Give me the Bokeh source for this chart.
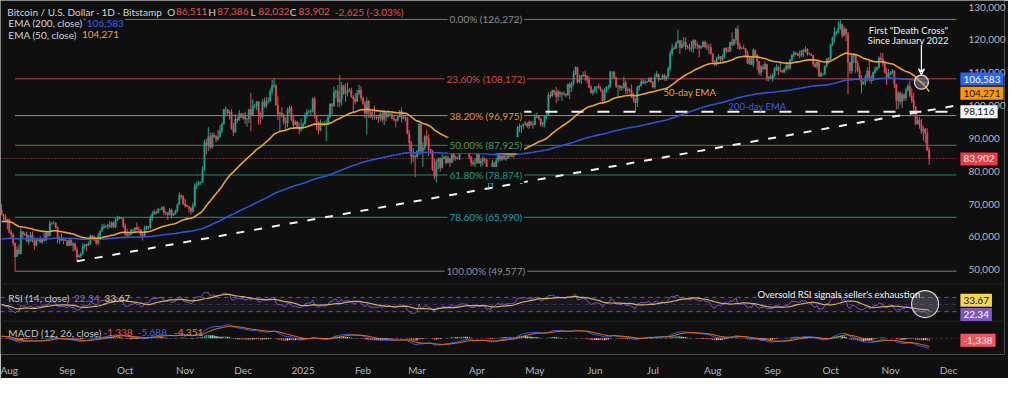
import numpy as np
import pandas as pd
from bokeh.plotting import figure
from bokeh.models import (Range1d, FixedTicker, NumeralTickFormatter, CustomJSTickFormatter,
                          Label, Span, BoxAnnotation, Arrow, VeeHead)
from bokeh.embed import file_html
from bokeh.resources import INLINE

# ---------------- data (BTC/USD daily, thousands of USD) ----------------
first_date = "2024-07-29"
first_open = 68.2

close_2024 = [
    66.8, 66.2, 64.6,
    65.3, 61.4, 60.7, 58.1, 54.0, 56.0, 55.0, 61.7, 60.8, 60.9, 58.7, 59.3, 60.6, 58.7, 57.5, 58.9, 59.5, 58.4, 59.5, 59.0, 61.2, 60.4, 64.1, 64.2, 64.2, 62.8, 59.4, 59.0, 59.4, 59.1, 58.9,
    57.3, 59.1, 57.5, 57.9, 56.2, 53.9, 54.2, 54.8, 57.0, 57.7, 57.4, 58.1, 60.5, 60.0, 59.2, 58.2, 60.3, 61.8, 62.9, 63.2, 63.3, 63.6, 63.3, 64.3, 63.1, 65.2, 65.8, 65.9, 65.6, 63.3,
    60.8, 60.6, 60.8, 62.1, 62.1, 62.8, 62.2, 62.1, 60.6, 60.3, 62.4, 63.2, 62.9, 66.0, 67.0, 67.6, 67.4, 68.4, 68.4, 69.0, 67.4, 67.4, 66.7, 68.2, 66.6, 67.0, 67.9, 69.9, 72.7, 72.3, 70.2,
    69.5, 69.3, 68.7, 67.8, 69.4, 75.6, 75.9, 76.5, 76.7, 80.5, 88.7, 88.0, 90.5, 87.3, 91.0, 90.6, 89.8, 90.5, 92.3, 94.3, 98.9, 98.9, 97.7, 98.0, 93.0, 91.9, 95.9, 95.6, 97.5, 96.4,
    97.2, 95.9, 96.0, 98.8, 97.0, 99.9, 99.9, 101.2, 97.4, 96.6, 101.1, 100.0, 101.4, 101.4, 104.3, 106.1, 106.1, 100.2, 97.5, 97.8, 97.2, 95.1, 94.7, 98.7, 99.3, 95.8, 94.2, 95.1, 93.6, 92.8, 93.4,
]
high_2024 = [
    70.0, 67.0, 66.9,
    65.6, 65.6, 62.2, 61.1, 58.3, 57.0, 57.7, 62.7, 61.8, 61.4, 61.7, 60.6, 61.5, 61.7, 59.8, 59.8, 59.7, 60.2, 59.6, 61.3, 61.8, 61.4, 64.9, 64.5, 65.0, 64.4, 63.2, 60.2, 61.1, 59.8, 59.4,
    59.0, 59.4, 59.8, 58.5, 58.3, 56.9, 54.8, 55.3, 58.1, 58.0, 57.9, 58.6, 60.7, 60.6, 60.4, 59.2, 61.3, 62.0, 63.9, 64.1, 63.6, 64.0, 64.8, 64.7, 64.8, 65.8, 66.5, 66.3, 66.1, 65.7,
    64.1, 62.4, 61.4, 62.5, 62.4, 63.0, 64.4, 63.2, 62.5, 61.3, 63.4, 63.5, 63.3, 66.5, 67.9, 68.4, 68.0, 68.9, 68.6, 69.4, 69.5, 67.8, 67.5, 68.8, 68.7, 67.4, 68.3, 70.2, 73.6, 72.9, 72.7,
    71.6, 69.9, 69.4, 69.0, 70.5, 76.4, 76.9, 77.2, 76.9, 81.5, 89.6, 89.9, 93.4, 91.8, 91.8, 91.8, 91.1, 92.6, 94.0, 94.9, 99.0, 99.8, 99.0, 98.6, 98.9, 94.7, 97.4, 96.6, 98.7, 97.8,
    97.8, 98.1, 96.3, 99.0, 103.9, 101.9, 100.5, 101.4, 101.3, 98.2, 101.9, 102.5, 102.6, 102.6, 105.2, 107.8, 108.3, 106.5, 102.8, 98.1, 99.5, 97.4, 96.4, 99.4, 99.9, 99.9, 97.3, 95.5, 95.2, 94.9, 96.1,
]
low_2024 = [
    66.6, 65.3, 64.5,
    62.3, 61.1, 59.8, 57.2, 49.577, 53.9, 54.6, 54.7, 59.6, 60.3, 58.4, 57.7, 58.5, 58.4, 56.1, 57.1, 58.8, 58.3, 57.9, 58.6, 58.8, 59.8, 60.3, 63.6, 63.8, 62.7, 58.1, 57.9, 58.8, 57.8, 58.8,
    57.2, 57.2, 57.4, 55.6, 55.7, 52.6, 53.7, 53.6, 54.6, 56.4, 55.6, 57.3, 57.6, 59.5, 58.7, 57.5, 57.6, 59.2, 61.6, 62.4, 62.8, 62.4, 62.7, 62.7, 62.7, 62.7, 64.8, 65.4, 65.5, 62.8,
    60.2, 59.9, 59.9, 60.5, 61.7, 61.8, 62.1, 61.8, 60.3, 58.9, 60.2, 62.2, 62.1, 62.5, 64.9, 66.8, 66.8, 67.2, 68.1, 68.2, 66.6, 66.6, 65.2, 66.6, 65.6, 66.5, 66.8, 67.5, 69.8, 71.5, 69.7,
    68.9, 69.1, 67.5, 66.8, 67.5, 69.3, 74.5, 75.6, 75.9, 76.5, 80.2, 85.1, 86.2, 86.7, 87.1, 90.2, 88.8, 89.4, 90.3, 91.6, 94.2, 97.2, 97.3, 95.8, 92.6, 90.8, 91.8, 94.7, 95.4, 96.2,
    95.7, 94.4, 93.6, 94.7, 92.2, 96.9, 99.1, 98.7, 94.2, 94.3, 95.8, 99.3, 99.2, 100.6, 101.2, 103.3, 105.3, 100.0, 95.7, 92.2, 96.4, 94.2, 92.4, 93.4, 97.6, 95.2, 93.3, 94.0, 93.0, 91.3, 92.0,
]
close_2025 = [
    94.4, 96.9, 98.1, 98.2, 98.3, 102.1, 96.9, 95.0, 92.5, 94.7, 94.5, 94.5, 94.5, 96.5, 100.5, 99.9, 104.1, 104.4, 101.1, 102.0, 106.1, 103.7, 103.9, 104.8, 104.7, 102.6, 102.1, 101.3, 103.7, 104.7, 102.4,
    100.6, 97.7, 101.4, 97.9, 96.6, 96.6, 96.5, 96.5, 96.2, 97.4, 95.8, 97.9, 96.6, 97.5, 97.6, 96.1, 95.8, 95.5, 96.6, 98.3, 96.1, 96.6, 96.3, 91.5, 88.7, 84.4, 84.7, 84.4,
    86.0, 94.3, 86.1, 87.2, 90.6, 89.9, 86.7, 86.2, 80.7, 78.5, 82.9, 83.7, 81.1, 84.0, 84.3, 82.6, 84.0, 82.7, 86.8, 84.2, 84.0, 83.8, 86.1, 87.5, 87.4, 86.9, 87.2, 84.3, 82.6, 82.3, 82.5,
    85.2, 82.5, 83.1, 83.8, 83.5, 78.4, 79.2, 76.3, 82.6, 79.6, 83.4, 85.3, 83.7, 84.6, 83.7, 84.0, 84.9, 84.5, 85.1, 85.2, 87.5, 93.4, 93.7, 93.9, 94.7, 94.6, 93.8, 95.0, 94.3, 94.2,
    96.5, 96.9, 95.9, 94.3, 94.7, 96.8, 97.0, 103.2, 102.9, 104.6, 104.1, 102.8, 104.2, 103.5, 103.7, 103.5, 103.2, 106.5, 105.6, 106.8, 109.7, 111.7, 107.3, 107.8, 109.0, 109.4, 108.9, 107.8, 105.6, 103.9, 104.6,
    105.7, 105.8, 105.4, 104.7, 101.5, 104.3, 105.6, 105.7, 110.3, 110.3, 108.6, 105.9, 106.1, 105.4, 105.6, 107.0, 104.6, 104.9, 104.6, 103.3, 102.1, 100.9, 105.5, 106.0, 107.3, 106.9, 107.1, 107.3, 108.4, 107.1,
    105.7, 108.8, 109.6, 108.0, 108.2, 109.2, 108.2, 108.9, 111.3, 115.9, 117.5, 117.4, 119.1, 119.8, 117.7, 118.7, 119.2, 117.9, 117.9, 117.3, 117.4, 119.9, 118.6, 118.3, 117.6, 117.9, 119.4, 118.0, 117.8, 117.8, 115.7,
    113.3, 112.5, 114.2, 115.0, 114.1, 115.0, 117.5, 116.7, 116.5, 119.3, 118.7, 120.2, 123.3, 118.4, 117.4, 117.5, 117.4, 116.2, 112.9, 114.3, 112.5, 116.9, 115.4, 113.5, 110.1, 111.8, 111.2, 112.6, 108.4, 108.8, 108.3,
    109.2, 111.2, 111.7, 110.7, 110.7, 110.2, 111.2, 112.1, 111.5, 113.9, 115.5, 116.1, 115.9, 115.3, 115.4, 116.8, 116.5, 117.1, 115.7, 115.7, 115.3, 112.7, 112.0, 113.3, 109.0, 109.7, 109.7, 112.1, 114.3, 114.1,
    118.6, 120.7, 122.3, 122.3, 123.5, 124.8, 121.4, 123.3, 121.7, 113.2, 110.7, 115.2, 115.3, 113.0, 110.7, 108.2, 106.5, 107.2, 108.7, 110.6, 108.5, 107.6, 110.1, 111.0, 111.6, 114.5, 114.1, 112.9, 110.1, 108.3, 109.6,
    110.1, 110.6, 106.5, 101.6, 103.9, 101.3, 103.3, 102.3, 104.7, 106.0, 103.0, 101.6, 99.7, 94.4, 95.6, 94.2, 92.2, 92.9, 91.5, 86.511, 83.902,
]
high_2025 = [
    94.9, 97.8, 98.9, 98.7, 98.8, 102.5, 102.7, 97.2, 95.3, 95.8, 94.9, 95.3, 95.8, 97.3, 100.7, 100.8, 105.8, 104.9, 106.3, 109.3, 107.2, 106.3, 106.8, 107.1, 105.3, 105.5, 103.2, 103.8, 104.8, 106.4, 106.0,
    102.7, 101.4, 102.5, 101.7, 99.0, 99.2, 100.1, 96.9, 97.3, 98.3, 98.5, 98.1, 98.0, 98.7, 97.9, 97.7, 97.0, 96.0, 96.9, 98.7, 99.5, 96.8, 96.7, 96.5, 92.5, 89.3, 87.1, 85.1,
    86.5, 95.0, 94.4, 88.9, 91.0, 92.7, 91.2, 86.8, 86.5, 83.9, 83.6, 84.3, 84.3, 85.2, 84.7, 85.0, 84.7, 84.1, 87.4, 87.4, 84.8, 84.5, 86.2, 88.7, 88.5, 88.3, 87.7, 87.5, 84.6, 83.5, 83.9,
    85.5, 88.5, 83.9, 84.7, 84.2, 83.8, 81.2, 80.8, 83.5, 82.7, 84.2, 85.8, 86.0, 85.8, 86.4, 85.4, 85.4, 85.1, 85.6, 85.3, 88.8, 93.8, 94.7, 94.0, 95.7, 95.3, 95.0, 95.5, 95.4, 95.2,
    97.4, 97.9, 97.0, 96.3, 95.1, 96.9, 97.7, 104.0, 104.3, 104.9, 104.8, 105.8, 104.9, 104.3, 104.1, 104.5, 103.7, 106.7, 107.1, 107.3, 110.8, 111.9, 111.8, 109.5, 109.3, 110.4, 110.7, 109.3, 108.9, 106.3, 104.9,
    105.9, 105.9, 106.8, 105.9, 105.0, 105.3, 105.9, 106.4, 110.6, 110.4, 110.4, 108.8, 106.2, 106.2, 106.1, 108.9, 107.7, 105.6, 105.3, 106.5, 103.9, 102.4, 106.1, 106.3, 108.1, 108.0, 107.8, 107.6, 108.5, 108.8,
    107.5, 109.8, 110.5, 109.7, 108.4, 109.7, 109.7, 109.2, 111.9, 116.8, 118.9, 118.2, 119.5, 123.2, 119.9, 120.0, 120.9, 120.8, 118.5, 118.9, 119.7, 120.2, 120.1, 119.5, 118.5, 118.4, 119.8, 119.8, 119.2, 118.8, 118.9,
    116.0, 114.0, 114.8, 115.7, 115.1, 115.6, 117.6, 117.7, 117.9, 119.4, 122.3, 120.3, 123.7, 124.4, 119.2, 117.9, 118.6, 117.6, 116.8, 114.6, 114.6, 117.4, 117.0, 115.7, 113.7, 112.4, 112.6, 113.5, 112.7, 108.9, 109.5,
    109.9, 111.8, 112.6, 112.2, 113.4, 110.9, 111.4, 112.9, 113.3, 114.3, 115.6, 116.7, 116.4, 116.1, 116.8, 117.0, 117.3, 118.0, 117.5, 116.3, 115.8, 115.4, 113.3, 114.0, 113.5, 110.3, 109.8, 112.3, 114.4, 114.8,
    118.8, 121.0, 123.9, 122.8, 125.7, 126.272, 125.0, 124.2, 123.7, 122.5, 113.3, 115.8, 116.0, 115.5, 113.6, 111.9, 109.2, 107.5, 109.4, 111.7, 114.0, 109.2, 110.4, 112.0, 111.8, 115.0, 116.1, 116.0, 113.6, 111.6, 111.2,
    110.5, 111.1, 110.7, 106.6, 104.5, 104.2, 104.0, 103.6, 105.5, 106.7, 107.4, 105.3, 104.0, 99.8, 96.8, 96.6, 96.0, 93.8, 93.2, 93.1, 87.386,
]
low_2025 = [
    92.8, 94.2, 96.0, 97.6, 97.2, 97.9, 96.1, 92.5, 91.2, 92.2, 93.8, 93.7, 89.2, 94.3, 96.3, 97.3, 99.7, 102.3, 99.6, 99.5, 100.1, 103.3, 101.2, 102.8, 104.1, 102.5, 97.8, 100.3, 101.2, 103.3, 101.6,
    100.3, 96.2, 91.2, 96.2, 96.2, 95.7, 95.7, 95.7, 94.7, 95.3, 94.9, 94.1, 95.2, 96.3, 97.1, 96.0, 95.2, 93.4, 95.2, 96.4, 94.9, 95.8, 95.2, 91.3, 86.1, 82.3, 82.8, 78.2,
    84.2, 85.0, 85.1, 81.4, 86.4, 87.9, 84.7, 85.3, 80.1, 77.5, 76.6, 80.7, 79.9, 80.8, 83.7, 82.1, 82.5, 81.2, 82.6, 83.2, 83.2, 83.6, 83.4, 85.5, 86.3, 85.9, 85.8, 83.8, 81.6, 81.6, 81.3,
    82.4, 82.3, 81.2, 81.7, 82.4, 77.2, 74.6, 76.2, 74.8, 78.4, 78.9, 82.7, 83.0, 83.2, 83.6, 83.2, 83.9, 84.2, 84.3, 83.9, 85.1, 87.1, 91.9, 91.7, 92.9, 93.9, 93.2, 92.9, 93.8, 92.9,
    94.1, 96.2, 95.7, 93.6, 93.5, 93.4, 95.8, 96.9, 102.3, 102.8, 103.2, 100.8, 101.4, 102.6, 101.4, 103.1, 102.6, 103.1, 102.0, 104.2, 106.1, 109.3, 106.8, 106.9, 106.6, 108.8, 107.6, 106.8, 105.4, 103.6, 103.1,
    103.9, 103.7, 105.1, 104.2, 100.4, 101.1, 103.9, 105.0, 105.3, 108.3, 108.1, 105.4, 102.7, 104.5, 104.5, 105.1, 103.4, 103.6, 103.9, 102.3, 100.9, 98.2, 99.6, 104.6, 105.9, 106.6, 106.4, 106.9, 107.2, 106.8,
    105.3, 105.1, 108.6, 107.3, 107.8, 107.8, 107.5, 107.5, 108.4, 110.6, 115.2, 116.9, 117.3, 118.9, 115.7, 117.4, 117.8, 116.9, 117.3, 116.6, 116.4, 116.1, 117.4, 117.2, 114.7, 117.2, 117.8, 117.5, 116.9, 115.8, 115.6,
    112.7, 112.0, 112.2, 114.0, 112.7, 113.4, 114.3, 115.9, 116.3, 116.4, 118.1, 118.2, 118.9, 117.2, 116.9, 117.2, 117.2, 114.6, 112.7, 112.4, 112.4, 111.7, 114.6, 110.8, 109.3, 109.0, 110.4, 110.9, 107.4, 107.4, 108.1,
    107.3, 108.6, 110.6, 109.3, 110.2, 110.0, 110.0, 110.6, 110.9, 110.9, 113.4, 114.8, 115.3, 115.0, 114.4, 114.8, 114.8, 116.2, 115.2, 115.6, 115.2, 111.9, 111.5, 111.1, 108.7, 108.6, 109.1, 109.3, 111.6, 112.7,
    113.9, 118.1, 119.3, 121.6, 122.0, 123.1, 120.6, 121.1, 119.7, 103.5, 109.7, 109.7, 113.0, 110.0, 110.2, 107.6, 103.7, 106.4, 106.1, 107.5, 107.4, 106.7, 107.5, 109.7, 110.7, 111.3, 113.8, 111.9, 109.8, 106.3, 108.7,
    109.3, 109.6, 105.3, 98.9, 98.9, 100.3, 99.3, 101.4, 101.5, 104.3, 102.5, 100.8, 98.0, 94.0, 94.3, 93.0, 91.3, 89.3, 88.6, 86.1, 82.032,
]

# Fibonacci retracement anchors (Aug 5 2024 low -> Oct 6 2025 high)
fib_start_date = "2024-08-05"
fib_high = 126272
fib_low = 49577
fib_levels = [0.0, 0.236, 0.382, 0.5, 0.618, 0.786, 1.0]

# drawn trend lines
trend_dates = ["2024-09-06", "2025-12-05"]
trend_prices = [52600, 100050]
support_start = "2025-04-23"
support_price = 98116

# legend texts
header_title = "Bitcoin / U.S. Dollar · 1D · Bitstamp"
header_change = "-2,625 (-3.03%)"
ema200_text = "106,583"
ema50_text = "104,271"
rsi_text = "22.34"
rsi_ma_text = "33.67"
macd_hist_text = "-1,338"
macd_text = "-5,688"
macd_signal_text = "-4,351"

# ---------------- series ----------------
closes = np.array(close_2024 + close_2025) * 1000.0
highs = np.array(high_2024 + high_2025) * 1000.0
lows = np.array(low_2024 + low_2025) * 1000.0
n = min(len(closes), len(highs), len(lows))
closes, highs, lows = closes[:n], highs[:n], lows[:n]
dates = pd.date_range(first_date, periods=n, freq="D")
opens = np.concatenate([[first_open * 1000.0], closes[:-1]])
highs = np.maximum(highs, np.maximum(opens, closes))
lows = np.minimum(lows, np.minimum(opens, closes))


def ema(vals, span, seed):
    k = 2.0 / (span + 1)
    out, e = [], seed
    for v in vals:
        e = e + k * (v - e)
        out.append(e)
    return np.array(out)


def rsi_wilder(vals, length, prev, g0, l0):
    ag, al, out = g0, l0, []
    for v in vals:
        ch = v - prev
        prev = v
        ag = (ag * (length - 1) + max(ch, 0)) / length
        al = (al * (length - 1) + max(-ch, 0)) / length
        out.append(100 - 100 / (1 + ag / al) if al > 0 else 100.0)
    return np.array(out)


ema200 = ema(closes, 200, 59300.0)
ema50 = ema(closes, 50, 64600.0)
rsi = rsi_wilder(closes, 14, first_open * 1000.0, 700.0, 600.0)
rsi_ma = pd.Series(rsi).rolling(14, min_periods=1).mean().values
macd = ema(closes, 12, 66500.0) - ema(closes, 26, 65300.0)
signal = ema(macd, 9, 1000.0)
hist = macd - signal

# ---------------- layout helpers (reference pixel -> data) ----------------
DAY = 86400000.0
AUG1 = pd.Timestamp("2024-08-01")
PXD = 1.971


def xpix(rx):
    return (AUG1 + pd.Timedelta(days=(rx - 7) / PXD)).value / 1e6


def ypix(ry):
    return 130000 - (ry - 7) / 0.00345


def ms(d):
    return pd.Timestamp(d).value / 1e6


BG = "#0f0f0f"
FONT = "Lato"
TXT = "#b2b5be"
UP, DOWN = "#22a28c", "#e04a58"

x_start, x_end = xpix(0), xpix(1024)   # frame spans the whole width
x_pane = xpix(975)                       # right edge of the chart panes (price scale starts here)

p = figure(width=1008, height=378, x_axis_type="datetime", y_axis_location="right",
           output_backend="svg", toolbar_location=None,
           x_range=Range1d(x_start, x_end), y_range=Range1d(ypix(372), ypix(0)),
           min_border_left=0, min_border_top=0, min_border_right=0, min_border_bottom=21,
           background_fill_color=BG, border_fill_color=BG, outline_line_color=None)
p.grid.grid_line_color = None
p.extra_y_ranges = {
    "rsi": Range1d(70 - (372 - 312) / 0.375, 70 + 312 / 0.375),
    "macd": Range1d(-(372 - 355) / 0.002, 355 / 0.002),
}

# axes (price scale drawn inside the right strip of the frame)
p.yaxis.ticker = FixedTicker(ticks=list(range(50000, 130001, 10000)))
p.yaxis.formatter = NumeralTickFormatter(format="0,0")
for ax in (p.xaxis, p.yaxis):
    ax.axis_line_color = None
    ax.major_tick_line_color = None
    ax.minor_tick_line_color = None
    ax.major_label_text_color = TXT
    ax.major_label_text_font = FONT
    ax.major_label_text_font_size = "10px"
p.yaxis.major_label_standoff = -42
p.xaxis.major_label_standoff = 3
p.xaxis.ticker = FixedTicker(ticks=[ms(d) for d in pd.date_range("2024-08-01", "2025-12-01", freq="MS")])
p.xaxis.formatter = CustomJSTickFormatter(code="""
const d = new Date(tick);
const m = d.getUTCMonth();
const names = ['Jan','Feb','Mar','Apr','May','Jun','Jul','Aug','Sep','Oct','Nov','Dec'];
return m == 0 ? String(d.getUTCFullYear()) : names[m];
""")

# pane separators
for ry in (298, 337):
    p.add_layout(Span(location=ypix(ry), dimension="width", line_color="#222222", line_width=1))

# fibonacci levels
fib_colors = ["#8a8d96", "#d9485a", "#e8962a", "#4f9a4f", "#1f9c83", "#18a3b3", "#8a8d96"]
fib_prices = [fib_high - lv * (fib_high - fib_low) for lv in fib_levels]
p.segment(x0=[ms(fib_start_date)] * len(fib_prices), y0=fib_prices,
          x1=[x_pane] * len(fib_prices), y1=fib_prices, line_color=fib_colors, line_width=1, line_alpha=0.85)

# current price line
p.line([x_start, x_pane], [closes[-1], closes[-1]], line_color="#e04a58",
       line_dash="1 2", line_width=1, line_alpha=0.8)

# candles
inc = closes >= opens
ccol = np.where(inc, UP, DOWN)
p.segment(x0=dates, y0=highs, x1=dates, y1=lows, line_color=list(ccol), line_width=1)
p.vbar(x=dates, width=0.7 * DAY, top=np.maximum(opens, closes), bottom=np.minimum(opens, closes),
       fill_color=list(ccol), line_color=list(ccol), line_width=0.5)

# EMAs
p.line(dates, ema200, line_color="#2f52d6", line_width=1.6)
p.line(dates, ema50, line_color="#eda232", line_width=1.6)

# trend lines
p.line([ms(d) for d in trend_dates], trend_prices, line_color="#f2f2f2", line_width=2, line_dash="8 10")
p.line([ms(support_start), x_pane], [support_price, support_price], line_color="#f2f2f2",
       line_width=2, line_dash="12 14")

# fib labels
for lv, pr, col in zip(fib_levels, fib_prices, fib_colors):
    p.add_layout(Label(x=xpix(495), y=pr, text=f"{lv * 100:.2f}% ({int(pr + 0.5):,})",
                       text_align="center", text_baseline="middle", text_color=col,
                       text_font=FONT, text_font_size="10px", background_fill_color=BG,
                       padding=2))

# RSI pane
p.add_layout(BoxAnnotation(bottom=30, top=70, right=x_pane, y_range_name="rsi", fill_color="#7e57c2",
                           fill_alpha=0.10, line_color=None))
for lvl, a in ((70, 0.8), (50, 0.35), (30, 0.8)):
    p.line([x_start, x_pane], [lvl, lvl], y_range_name="rsi", line_color="#787b86",
           line_dash="4 4", line_width=1, line_alpha=a)
p.line(dates, rsi, y_range_name="rsi", line_color="#7e57c2", line_width=1)
p.line(dates, rsi_ma, y_range_name="rsi", line_color="#d9bd55", line_width=1.2)

# MACD pane
hcol = []
prev = 0.0
for h in hist:
    if h >= 0:
        hcol.append("#26a69a" if h > prev else "#b2dfdb")
    else:
        hcol.append("#ffcdd2" if h > prev else "#ff5252")
    prev = h
p.line([x_start, x_pane], [0, 0], y_range_name="macd", line_color="#787b86",
       line_dash="2 3", line_width=1, line_alpha=0.5)
p.vbar(x=dates, width=0.7 * DAY, top=hist, bottom=0, y_range_name="macd",
       fill_color=hcol, line_color=None)
p.line(dates, macd, y_range_name="macd", line_color="#2962ff", line_width=1)
p.line(dates, signal, y_range_name="macd", line_color="#ff6d00", line_width=1)

# death cross marker (first day EMA50 < EMA200 after the summer)
cross_idx = None
for i in range(1, n):
    if dates[i] > pd.Timestamp("2025-09-01") and ema50[i] < ema200[i] and ema50[i - 1] >= ema200[i - 1]:
        cross_idx = i
        break
if cross_idx is None:
    cross_idx = n - 6
cx = ms(dates[cross_idx])
cy = (ema50[cross_idx] + ema200[cross_idx]) / 2
p.scatter([cx], [cy], size=14, marker="circle", fill_color="#9a9a9a", fill_alpha=0.45,
          line_color="#e0e0e0", line_width=1.2)
p.add_layout(Arrow(end=VeeHead(size=6, line_color="white", line_width=1.2), x_start=cx, y_start=ypix(47),
                   x_end=cx, y_end=ypix(78), line_color="white", line_width=1.2))
p.add_layout(Label(x=xpix(926), y=ypix(32), text='First "Death Cross"', text_align="center",
                   text_baseline="middle", text_color="#f0f0f0", text_font=FONT, text_font_size="9.5px"))
p.add_layout(Label(x=xpix(926), y=ypix(42), text="Since January 2022", text_align="center",
                   text_baseline="middle", text_color="#f0f0f0", text_font=FONT, text_font_size="9.5px"))

# RSI oversold marker
p.scatter([xpix(943)], [ypix(319)], size=27, marker="circle", fill_color="#9a9a9a", fill_alpha=0.30,
          line_color="#d8d8d8", line_width=1.2)
p.add_layout(Label(x=xpix(855), y=ypix(309), text="Oversold RSI signals seller's exhaustion",
                   text_align="center", text_baseline="middle", text_color="#f0f0f0",
                   text_font=FONT, text_font_size="9.5px"))

# EMA captions
p.add_layout(Label(x=xpix(703), y=ypix(97), text="50-day EMA", text_align="center", text_baseline="middle",
                   text_color="#eda232", text_font=FONT, text_font_size="9.5px"))
p.add_layout(Label(x=xpix(772), y=ypix(111), text="200-day EMA", text_align="center", text_baseline="middle",
                   text_color="#3a5fe0", text_font=FONT, text_font_size="9.5px"))


def txt(rx, ry, text, color, bg=None, size="10px"):
    kw = dict(background_fill_color=bg, padding=1) if bg else {}
    p.add_layout(Label(x=xpix(rx), y=ypix(ry), text=text, text_align="left", text_baseline="middle",
                       text_color=color, text_font=FONT, text_font_size=size, **kw))


RED = "#e8505c"
# header legend
txt(7, 12, header_title, "#d1d4dc")
for rx, v in ((179, opens[-1]), (221, highs[-1]), (263, lows[-1]), (304, closes[-1])):
    txt(rx, 12, f"{v:,.0f}", RED)
for rx, lab in ((170, "O"), (212, "H"), (255, "L"), (295, "C")):
    txt(rx, 12, lab, "#d1d4dc")
txt(341, 12, header_change, RED)
txt(7, 24, "EMA (200, close)", "#d1d4dc", BG)
txt(87, 24, ema200_text, "#3a62f0", BG)
txt(7, 36, "EMA (50, close)", "#d1d4dc", BG)
txt(82, 36, ema50_text, "#f0a030", BG)

# pane legends
txt(8, 313, "RSI (14, close)", "#c0c2c8")
txt(75, 313, rsi_text, "#8c6ad4")
txt(106, 313, rsi_ma_text, "#e6cc5c")
txt(8, 349, "MACD (12, 26, close)", "#c0c2c8")
txt(105, 349, macd_hist_text, "#f0505a")
txt(140, 349, macd_text, "#3a62f0")
txt(177, 349, macd_signal_text, "#ff7a1a")


# right-side value tags
def tag(ry, text, bg, fg):
    p.add_layout(Label(x=xpix(979), y=ypix(ry), text=text, text_align="left", text_baseline="middle",
                       text_color=fg, text_font=FONT, text_font_size="10px",
                       background_fill_color=bg, padding=3))


tag(82.5, ema200_text, "#2962ff", "#ffffff")
tag(97.5, ema50_text, "#ff9800", "#131313")
tag(117, f"{support_price:,}", "#f5f5f5", "#131313")
tag(166.5, f"{closes[-1]:,.0f}", "#f23645", "#ffffff")
tag(315, rsi_ma_text, "#f5d64e", "#131313")
tag(330, rsi_text, "#7e57c2", "#ffffff")
tag(357, macd_hist_text, "#f7525f", "#ffffff")

open("out.html", "w").write(file_html(p, INLINE))
